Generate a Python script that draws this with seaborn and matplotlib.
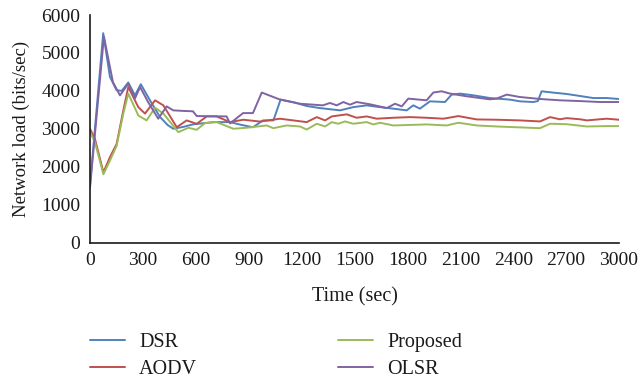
import numpy as np
import pandas as pd
import matplotlib
matplotlib.use("Agg")
import matplotlib.pyplot as plt
import seaborn as sns

# ---- data ----
dsr_t = [0, 75, 113, 151, 180, 217, 255, 288, 340, 397, 440, 472, 530, 584, 699, 794, 860, 924, 981,
         1040, 1081, 1153, 1229, 1304, 1418, 1493, 1569, 1645, 1720, 1796, 1833, 1871, 1928, 2013, 2051,
         2098, 2174, 2268, 2382, 2438, 2514, 2540, 2561, 2627, 2703, 2779, 2854, 2930, 3000]
dsr_v = [1500, 5520, 4370, 4015, 4000, 4220, 3880, 4175, 3750, 3310, 3100, 3000, 3050, 3115, 3175, 3175, 3100, 3040, 3220,
         3220, 3770, 3700, 3600, 3545, 3485, 3570, 3617, 3570, 3530, 3485, 3617, 3530, 3723, 3705, 3900,
         3927, 3882, 3810, 3768, 3723, 3705, 3730, 3988, 3953, 3917, 3864, 3810, 3810, 3785]

aodv_t = [0, 28, 76, 113, 151, 189, 217, 274, 312, 369, 416, 492, 548, 605, 662, 718, 794, 869, 964,
          1077, 1153, 1229, 1286, 1333, 1371, 1456, 1512, 1569, 1626, 1720, 1815, 1909, 2004, 2089, 2193,
          2306, 2438, 2552, 2609, 2665, 2703, 2779, 2817, 2930, 3000]
aodv_v = [3000, 2735, 1850, 2250, 2600, 3485, 4100, 3570, 3400, 3750, 3617, 3040, 3220, 3130, 3325, 3325, 3175, 3238, 3190,
          3265, 3220, 3175, 3307, 3220, 3325, 3380, 3290, 3325, 3265, 3290, 3307, 3290, 3265, 3334, 3246,
          3238, 3220, 3193, 3307, 3250, 3280, 3250, 3220, 3265, 3238]

prop_t = [0, 28, 76, 113, 151, 189, 217, 274, 321, 369, 416, 501, 558, 605, 652, 718, 813, 888, 1002,
          1040, 1115, 1191, 1229, 1286, 1333, 1371, 1408, 1446, 1493, 1569, 1607, 1645, 1720, 1909, 2023,
          2089, 2193, 2306, 2552, 2609, 2703, 2817, 2930, 3000]
prop_v = [2910, 2645, 1800, 2160, 2550, 3400, 3927, 3350, 3220, 3555, 3400, 2910, 3026, 2973, 3148, 3175, 3000, 3026, 3087,
          3015, 3087, 3060, 2980, 3132, 3060, 3175, 3132, 3193, 3132, 3175, 3114, 3158, 3087, 3114, 3087,
          3158, 3087, 3060, 3015, 3132, 3120, 3060, 3070, 3070]

olsr_t = [0, 79, 130, 170, 217, 255, 284, 330, 387, 435, 472, 530, 584, 605, 700, 775, 794, 868, 924, 974,
          1077, 1191, 1321, 1361, 1399, 1437, 1474, 1512, 1588, 1683, 1730, 1768, 1805, 1909, 1947, 1994,
          2042, 2136, 2268, 2306, 2363, 2438, 2552, 2665, 2779, 2892, 3000]
olsr_v = [1450, 5430, 4230, 3880, 4190, 3800, 4100, 3700, 3265, 3590, 3485, 3470, 3460, 3335, 3330, 3325, 3140, 3413, 3413, 3955,
          3770, 3660, 3617, 3680, 3617, 3705, 3635, 3705, 3645, 3545, 3660, 3590, 3795, 3750, 3955, 3988,
          3927, 3856, 3776, 3795, 3900, 3837, 3785, 3750, 3730, 3705, 3705]

series_names = ["DSR", "AODV", "Proposed", "OLSR"]
series_colors = ["#4F81BD", "#C0504D", "#9BBB59", "#8064A2"]
x_ticks = list(range(0, 3001, 300))
y_ticks = list(range(0, 6001, 1000))

frames = []
for name, t, v in zip(series_names, [dsr_t, aodv_t, prop_t, olsr_t], [dsr_v, aodv_v, prop_v, olsr_v]):
    frames.append(pd.DataFrame({"Time": t, "Load": v, "Protocol": name}))
df = pd.concat(frames, ignore_index=True)

sns.set_theme(style="white")
plt.rcParams["font.family"] = ["Liberation Serif", "DejaVu Serif"]

W, H = 639, 383
fig = plt.figure(figsize=(W / 100, H / 100), dpi=100)
ax = fig.add_axes([90 / W, 1 - 242.5 / H, (619 - 90) / W, (242.5 - 15) / H])

sns.lineplot(data=df, x="Time", y="Load", hue="Protocol", hue_order=series_names,
             palette=series_colors, estimator=None, linewidth=1.4, ax=ax, legend=False)

ax.set_xlim(0, 3000)
ax.set_ylim(0, 6000)
ax.set_xticks(x_ticks)
ax.set_yticks(y_ticks)
ax.tick_params(axis="both", length=0, labelsize=14, colors="#1a1a1a")
ax.tick_params(axis="x", pad=7)
ax.tick_params(axis="y", pad=7)
for s in ["top", "right"]:
    ax.spines[s].set_visible(False)
for s in ["left", "bottom"]:
    ax.spines[s].set_color("#1a1a1a")
    ax.spines[s].set_linewidth(1.2)
ax.set_xlabel("Time (sec)", fontsize=14.5, labelpad=13, color="#1a1a1a")
ax.set_ylabel("Network load (bits/sec)", fontsize=13.5, labelpad=8, color="#1a1a1a")
ax.grid(False)

handles = [plt.Line2D([], [], color=c, linewidth=1.4) for c in series_colors]
fig.legend(handles, series_names, loc="center left", bbox_to_anchor=(90 / W, 1 - 356 / H),
           bbox_transform=fig.transFigure, ncol=2, frameon=False, fontsize=14.5,
           borderpad=0, borderaxespad=0, handlelength=1.74, handletextpad=0.7,
           columnspacing=7.0, labelspacing=0.42, labelcolor="#1a1a1a")

fig.savefig("out.png", dpi=100)
